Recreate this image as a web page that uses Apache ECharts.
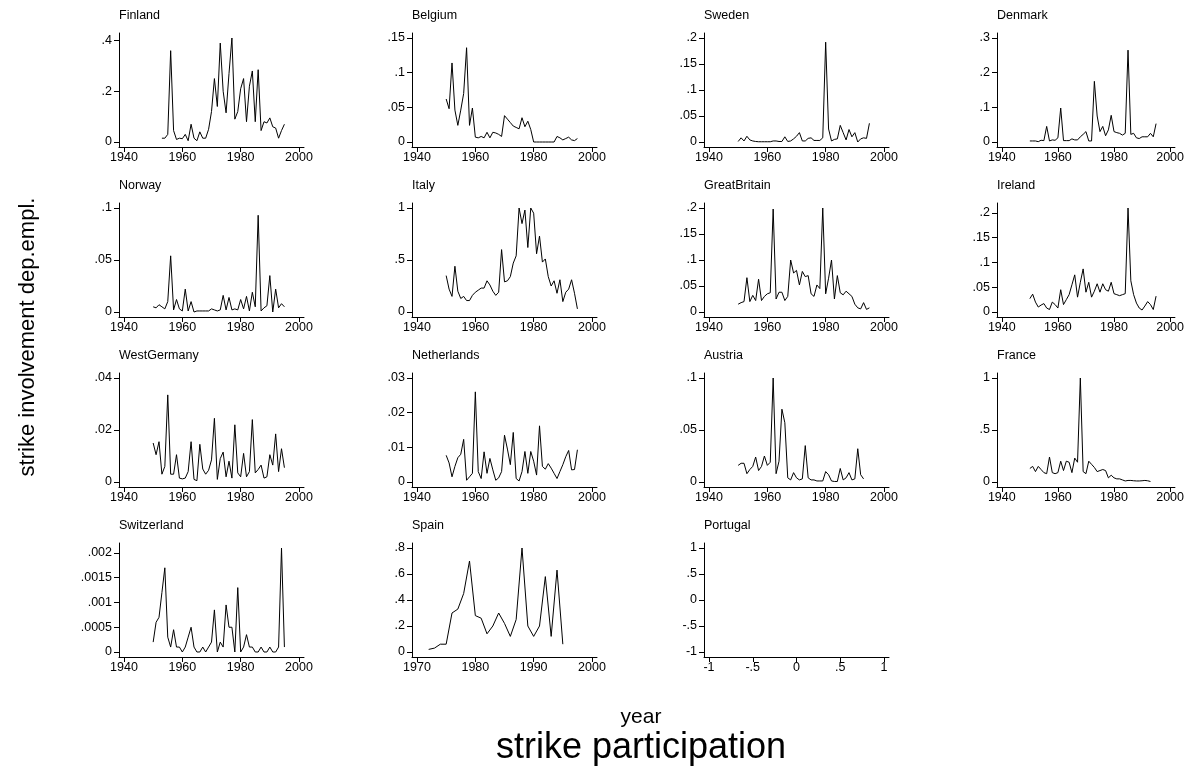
<!DOCTYPE html>
<html>
<head>
<meta charset="utf-8">
<script src="https://cdn.jsdelivr.net/npm/echarts@6/dist/echarts.min.js"></script>
<style>
  html, body { margin: 0; padding: 0; background: #fff; }
  #chart { width: 1187px; height: 776px; }
</style>
</head>
<body>
<div id="chart"></div>
<script>
// panels, in reading order
var countries = ['Finland', 'Belgium', 'Sweden', 'Denmark',
                 'Norway', 'Italy', 'GreatBritain', 'Ireland',
                 'WestGermany', 'Netherlands', 'Austria', 'France',
                 'Switzerland', 'Spain', 'Portugal'];

// first year of each series
var startYear = {
  Finland: 1953, Belgium: 1950, Sweden: 1950, Denmark: 1950,
  Norway: 1950, Italy: 1950, GreatBritain: 1950, Ireland: 1950,
  WestGermany: 1950, Netherlands: 1950, Austria: 1950, France: 1950,
  Switzerland: 1950, Spain: 1972, Portugal: 1950
};

var finland = [0.015, 0.015, 0.03, 0.36, 0.045, 0.01, 0.015, 0.013, 0.03, 0.005,
  0.07, 0.015, 0.005, 0.04, 0.015, 0.015, 0.05, 0.12, 0.25, 0.14,
  0.39, 0.2, 0.115, 0.27, 0.41, 0.09, 0.12, 0.21, 0.25, 0.08,
  0.22, 0.28, 0.08, 0.285, 0.045, 0.08, 0.075, 0.095, 0.06, 0.055,
  0.015, 0.045, 0.07];
var belgium = [0.062, 0.048, 0.114, 0.046, 0.024, 0.046, 0.07, 0.136, 0.024, 0.049,
  0.007, 0.006, 0.008, 0.006, 0.014, 0.006, 0.014, 0.013, 0.011, 0.008,
  0.038, 0.033, 0.028, 0.023, 0.021, 0.019, 0.035, 0.022, 0.03, 0.018,
  0, 0, 0, 0, 0, 0, 0, 0, 0.008, 0.006,
  0.003, 0.005, 0.007, 0.003, 0.002, 0.005];
var sweden = [0.001, 0.008, 0.002, 0.011, 0.004, 0.002, 0.001, 0.0005, 0.0005, 0.0005,
  0.0005, 0.0005, 0.002, 0.002, 0.001, 0.001, 0.01, 0.001, 0.002, 0.006,
  0.011, 0.018, 0.002, 0.002, 0.007, 0.008, 0.003, 0.003, 0.003, 0.008,
  0.192, 0.025, 0.002, 0.005, 0.006, 0.032, 0.018, 0.004, 0.024, 0.01,
  0.018, 0.0, 0.006, 0.008, 0.007, 0.036];
var denmark = [0.003, 0.003, 0.003, 0.001, 0.005, 0.004, 0.045, 0.003, 0.006, 0.005,
  0.012, 0.098, 0.004, 0.004, 0.004, 0.009, 0.006, 0.006, 0.015, 0.022,
  0.03, 0.003, 0.003, 0.175, 0.075, 0.03, 0.045, 0.018, 0.035, 0.077,
  0.03, 0.027, 0.025, 0.02, 0.025, 0.265, 0.022, 0.025, 0.012, 0.01,
  0.015, 0.015, 0.015, 0.025, 0.015, 0.053];
var norway = [0.005, 0.004, 0.007, 0.005, 0.003, 0.01, 0.054, 0.002, 0.012, 0.003,
  0.001, 0.022, 0.001, 0.01, 0.0, 0.001, 0.001, 0.001, 0.001, 0.001,
  0.003, 0.002, 0.001, 0.002, 0.016, 0.002, 0.014, 0.002, 0.003, 0.002,
  0.012, 0.003, 0.015, 0.001, 0.019, 0.005, 0.093, 0.001, 0.004, 0.006,
  0.035, 0.0, 0.022, 0.004, 0.008, 0.005];
var italy = [0.35, 0.22, 0.15, 0.44, 0.2, 0.13, 0.15, 0.11, 0.11, 0.16,
  0.19, 0.21, 0.23, 0.23, 0.3, 0.26, 0.2, 0.16, 0.19, 0.6,
  0.29, 0.3, 0.34, 0.47, 0.54, 1.0, 0.85, 0.98, 0.62, 1.0,
  0.95, 0.56, 0.73, 0.48, 0.51, 0.34, 0.25, 0.3, 0.18, 0.31,
  0.1, 0.19, 0.22, 0.31, 0.18, 0.03];
var greatBritain = [0.015, 0.018, 0.02, 0.066, 0.02, 0.032, 0.022, 0.063, 0.022, 0.03,
  0.035, 0.037, 0.198, 0.025, 0.038, 0.038, 0.022, 0.03, 0.1, 0.075,
  0.08, 0.052, 0.078, 0.068, 0.07, 0.035, 0.03, 0.052, 0.045, 0.2,
  0.035, 0.065, 0.1, 0.025, 0.07, 0.037, 0.033, 0.04, 0.035, 0.03,
  0.015, 0.008, 0.006, 0.018, 0.005, 0.008];
var ireland = [0.027, 0.036, 0.02, 0.01, 0.014, 0.017, 0.008, 0.005, 0.02, 0.015,
  0.008, 0.045, 0.015, 0.025, 0.035, 0.055, 0.075, 0.03, 0.06, 0.087,
  0.04, 0.06, 0.03, 0.042, 0.057, 0.04, 0.057, 0.045, 0.042, 0.06,
  0.037, 0.035, 0.033, 0.035, 0.037, 0.21, 0.063, 0.035, 0.018, 0.008,
  0.004, 0.012, 0.021, 0.015, 0.005, 0.032];
var westGermany = [0.015, 0.0105, 0.0155, 0.003, 0.006, 0.0335, 0.003, 0.003, 0.0105, 0.0015,
  0.0012, 0.0015, 0.004, 0.0155, 0.001, 0.0005, 0.0145, 0.005, 0.003, 0.0045,
  0.0085, 0.0245, 0.001, 0.009, 0.0115, 0.002, 0.008, 0.0015, 0.022, 0.0035,
  0.002, 0.011, 0.002, 0.004, 0.024, 0.0035, 0.0048, 0.0065, 0.0015, 0.002,
  0.0105, 0.0065, 0.0185, 0.004, 0.0128, 0.0055];
var netherlands = [0.0077, 0.0055, 0.0015, 0.0045, 0.007, 0.008, 0.0123, 0.0005, 0.0015, 0.0025,
  0.026, 0.003, 0.001, 0.0087, 0.0025, 0.0068, 0.0035, 0.0005, 0.0012, 0.003,
  0.0135, 0.0095, 0.005, 0.0143, 0.001, 0.0003, 0.003, 0.0088, 0.0025, 0.0088,
  0.006, 0.002, 0.0162, 0.0045, 0.0037, 0.0053, 0.004, 0.0025, 0.001, 0.003,
  0.005, 0.0073, 0.0091, 0.0035, 0.0036, 0.0093];
var austria = [0.016, 0.018, 0.018, 0.008, 0.012, 0.015, 0.024, 0.011, 0.015, 0.025,
  0.016, 0.019, 0.1, 0.008, 0.02, 0.07, 0.057, 0.004, 0.002, 0.009,
  0.004, 0.002, 0.003, 0.035, 0.004, 0.002, 0.002, 0.001, 0.001, 0.001,
  0.01, 0.007, 0.001, 0.0005, 0.0005, 0.013, 0.002, 0.004, 0.009, 0.002,
  0.003, 0.032, 0.007, 0.003];
var france = [0.13, 0.15, 0.1, 0.15, 0.12, 0.09, 0.08, 0.24, 0.09, 0.08,
  0.09, 0.2, 0.11, 0.2, 0.19, 0.09, 0.23, 0.19, 1.0, 0.1,
  0.08, 0.2, 0.17, 0.14, 0.1, 0.11, 0.12, 0.11, 0.04, 0.065,
  0.04, 0.03, 0.03, 0.02, 0.01, 0.015, 0.015, 0.012, 0.01, 0.01,
  0.012, 0.015, 0.012, 0.005];
var switzerland = [0.0002, 0.0006, 0.0007, 0.0012, 0.0017, 0.0003, 0.0001, 0.00045, 0.0001, 0.0001,
  0.0, 0.0001, 0.0003, 0.0005, 0.0001, 0.0, 0.0, 0.0001, 0.0, 0.0001,
  0.0002, 0.00085, 0.0, 0.0002, 0.0001, 0.00095, 0.0005, 0.0005, 0.0, 0.0013,
  0.0, 0.0001, 0.00035, 0.0001, 0.0001, 0.0, 0.0, 0.0001, 0.0, 0.0,
  0.0001, 0.0, 0.0, 0.0001, 0.0021, 0.0001];
var spain = [0.02, 0.03, 0.06, 0.06, 0.3, 0.33, 0.45, 0.7, 0.28, 0.26,
  0.14, 0.2, 0.3, 0.22, 0.12, 0.25, 0.8, 0.2, 0.12, 0.2,
  0.58, 0.12, 0.63, 0.06];
var portugal = [];

var seriesValues = {
  Finland: finland, Belgium: belgium, Sweden: sweden, Denmark: denmark,
  Norway: norway, Italy: italy, GreatBritain: greatBritain, Ireland: ireland,
  WestGermany: westGermany, Netherlands: netherlands, Austria: austria, France: france,
  Switzerland: switzerland, Spain: spain, Portugal: portugal
};

// tick labels
var yearTicks = [1940, 1960, 1980, 2000];
var spainYearTicks = [1970, 1980, 1990, 2000];
var unitTicks = [-1, -0.5, 0, 0.5, 1];
var yTicks = {
  Finland: [0, 0.2, 0.4],
  Belgium: [0, 0.05, 0.1, 0.15],
  Sweden: [0, 0.05, 0.1, 0.15, 0.2],
  Denmark: [0, 0.1, 0.2, 0.3],
  Norway: [0, 0.05, 0.1],
  Italy: [0, 0.5, 1],
  GreatBritain: [0, 0.05, 0.1, 0.15, 0.2],
  Ireland: [0, 0.05, 0.1, 0.15, 0.2],
  WestGermany: [0, 0.02, 0.04],
  Netherlands: [0, 0.01, 0.02, 0.03],
  Austria: [0, 0.05, 0.1],
  France: [0, 0.5, 1],
  Switzerland: [0, 0.0005, 0.001, 0.0015, 0.002],
  Spain: [0, 0.2, 0.4, 0.6, 0.8],
  Portugal: unitTicks
};
var xTicks = { Spain: spainYearTicks, Portugal: unitTicks };

var colLeft = [119, 412, 704, 997];
var rowTop = [33, 203, 373, 543];
var plotW = 185, plotH = 114;

function stataLabel(v) {
  var s = String(+v.toPrecision(6));
  return s.replace(/^0\./, '.').replace(/^-0\./, '-.');
}

// pad a range so the extreme ticks sit about 5px inside the plot
function padRange(lo, hi, span) {
  var pad = (hi - lo) * 5 / (span - 10);
  return [lo - pad, hi + pad];
}

var font = 'Liberation Sans, Arial, Helvetica, sans-serif';
var grids = [], xAxes = [], yAxes = [], series = [], titles = [];

countries.forEach(function (name, i) {
  var r = Math.floor(i / 4), c = i % 4;
  var vals = seriesValues[name];
  var data = vals.map(function (v, k) { return [startYear[name] + k, v]; });
  var xt = xTicks[name] || yearTicks;
  var yt = yTicks[name];

  var xs = data.map(function (d) { return d[0]; });
  var ys = data.map(function (d) { return d[1]; });
  var xr = padRange(Math.min.apply(null, xs.concat(xt[0])), Math.max.apply(null, xs.concat(xt[xt.length - 1])), plotW);
  var yr = padRange(Math.min.apply(null, ys.concat(yt[0])), Math.max.apply(null, ys.concat(yt[yt.length - 1])), plotH);

  grids.push({ left: colLeft[c], top: rowTop[r], width: plotW, height: plotH, containLabel: false });
  titles.push({
    text: name, left: colLeft[c], top: rowTop[r] - 24, padding: 0,
    textStyle: { fontFamily: font, fontSize: 12.5, fontWeight: 'normal', color: '#000' }
  });
  xAxes.push({
    type: 'value', gridIndex: i, min: xr[0], max: xr[1],
    axisLine: { show: true, onZero: false, lineStyle: { color: '#000', width: 1 } },
    axisTick: { show: true, length: 5, customValues: xt, lineStyle: { color: '#000' } },
    axisLabel: { customValues: xt, formatter: stataLabel, margin: 4, color: '#000', fontFamily: font, fontSize: 12.5 },
    splitLine: { show: false }
  });
  yAxes.push({
    type: 'value', gridIndex: i, min: yr[0], max: yr[1],
    axisLine: { show: true, onZero: false, lineStyle: { color: '#000', width: 1 } },
    axisTick: { show: true, length: 5, customValues: yt, lineStyle: { color: '#000' } },
    axisLabel: { customValues: yt, formatter: stataLabel, margin: 7, color: '#000', fontFamily: font, fontSize: 12.5 },
    splitLine: { show: false }
  });
  series.push({
    name: name, type: 'line', xAxisIndex: i, yAxisIndex: i, data: data,
    showSymbol: false, symbol: 'none', animation: false,
    lineStyle: { color: '#000', width: 1 }
  });
});

var chart = echarts.init(document.getElementById('chart'), null, { renderer: 'canvas' });
chart.setOption({
  backgroundColor: '#fff',
  animation: false,
  title: titles,
  grid: grids,
  xAxis: xAxes,
  yAxis: yAxes,
  series: series,
  graphic: [
    { type: 'text', x: 641, y: 717, style: { text: 'year', fontFamily: font, fontSize: 21, fill: '#000', align: 'center', verticalAlign: 'middle' } },
    { type: 'text', x: 641, y: 748, style: { text: 'strike participation', fontFamily: font, fontSize: 36, fill: '#000', align: 'center', verticalAlign: 'middle' } },
    { type: 'text', x: 28, y: 337, rotation: Math.PI / 2, style: { text: 'strike involvement dep.empl.', fontFamily: font, fontSize: 22, fill: '#000', align: 'center', verticalAlign: 'middle' } }
  ]
});
</script>
</body>
</html>
